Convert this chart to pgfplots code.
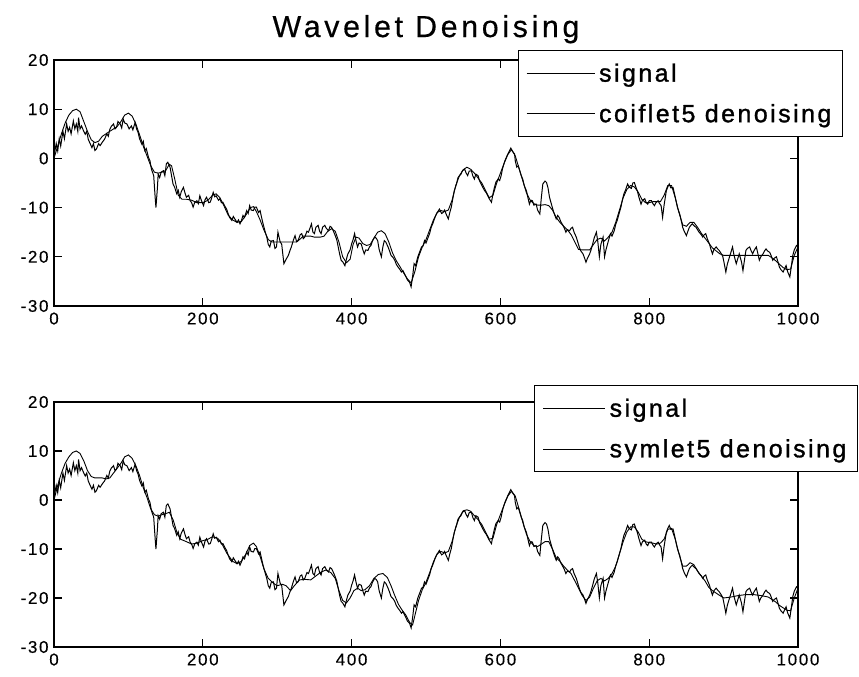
\documentclass[border=0pt]{standalone}
\usepackage{pgfplots}
\pgfplotsset{compat=1.18}
\usepackage{pgfplotstable}
\usepackage{fontspec}
\setmainfont{Liberation Sans}
\newfontfamily\titlefont[LetterSpace=12, FakeBold=0.4]{Liberation Sans}
\newfontfamily\legfont[LetterSpace=10, FakeBold=1.2]{Liberation Sans}
\newfontfamily\tickfont[LetterSpace=10, FakeBold=0.3]{Liberation Sans}

\pgfplotstableread{
x y
0 0.5
3 3
5 1.5
7 4
9 2.5
12 5.5
14 4
17 7
19 5.5
21 6.3
23 5
26 7.6
28 6
30 7
32 5.5
33 8.3
35 6
37 6.6
40 5.5
42 4.9
44 5.5
46 3.9
48 3.2
51 2.2
53 3
55 1.6
57 1.9
60 3
62 2.6
65 3.3
68 3.9
71 5
73 4.5
75 5.9
77 6.5
80 7
82 6
84 6.3
86 7.5
89 7
91 6.2
93 8
95 7.2
98 7
101 6
104 6.6
106 5.8
109 7.3
111 6
113 5.3
115 4
118 2.9
120 3.5
122 1.6
124 2
127 0.2
129 -0.5
131 -2.2
134 -3.5
136 -8
137 -10
139 -6
140 -3.2
142 -3.9
144 -2.8
147 -2.5
149 -3.5
151 -1.1
153 -0.8
156 -1.8
158 -3.5
160 -5.2
162 -5.8
165 -7.2
167 -6.5
169 -7.9
171 -6.8
174 -5.9
176 -7
178 -7.9
181 -7.5
183 -8.6
185 -9
187 -9.9
189 -9
192 -8.6
194 -9.2
196 -7.6
198 -8.5
201 -9.6
203 -8.4
205 -7.9
208 -9
210 -8.9
212 -8
214 -6.9
216 -7.8
218 -7.6
221 -8.5
223 -8.2
225 -9
227 -8.9
230 -9.8
232 -10.3
234 -11.2
236 -12
239 -12.6
241 -11.8
243 -12.3
246 -13
248 -12.5
250 -13.3
252 -12.6
254 -11.6
256 -12
259 -10.6
261 -11.2
263 -9.6
265 -10.5
268 -10.6
270 -9.9
272 -9.9
275 -11
277 -10.6
279 -12
281 -13.3
284 -15
286 -16
288 -17.5
290 -18
292 -16.8
295 -16.7
297 -18.3
299 -18
301 -15
304 -17
306 -17.4
309 -21.4
312 -20.5
315 -19.7
317 -18.8
319 -18
322 -16.5
324 -15.7
326 -16.9
328 -16.7
331 -15.5
333 -15.3
335 -16.3
337 -16
340 -14.8
342 -15
344 -14.2
346 -13.3
348 -15
350 -15.3
352 -14
355 -13.6
357 -14.8
359 -15.3
361 -14
364 -13.6
366 -14.2
369 -14.7
371 -13.8
373 -14
375 -14.6
377 -15.3
380 -16.5
382 -18
384 -19.5
386 -20.7
388 -21
391 -21.8
393 -20.5
395 -19.4
398 -18.6
400 -17.4
402 -16.5
404 -15.3
406 -16.8
408 -18
410 -17.2
413 -17.4
415 -18.5
417 -19.4
419 -18.6
422 -18.7
424 -18
426 -17.7
428 -16.8
431 -16
433 -16.2
435 -16.7
437 -18.5
440 -20
442 -18
444 -16.7
446 -17
449 -18
451 -18.8
453 -19.7
456 -20.2
458 -20.7
460 -21.5
462 -22
465 -22.6
467 -23.1
469 -22.8
471 -23.4
473 -24
475 -24.7
478 -25.2
480 -26.1
482 -24
484 -21.4
486 -21.8
489 -20
491 -19.2
494 -18
496 -17.8
498 -16.7
500 -17.2
503 -16
505 -15.2
507 -14
509 -13.3
512 -12
514 -11.3
516 -10.8
518 -10.3
521 -11.2
523 -11
525 -10.5
527 -11.3
530 -12.3
532 -11
534 -9.9
536 -8.2
538 -6.6
541 -5.2
543 -3.9
545 -3.5
547 -3.2
549 -2.5
552 -2.2
554 -3
556 -3.5
558 -2.6
561 -2.5
563 -3.6
565 -4.2
567 -3.2
570 -3.5
572 -4.6
574 -5.2
576 -5.8
579 -6.6
581 -7
583 -7.6
585 -8.2
588 -8.9
590 -7.2
592 -5.9
594 -4.8
597 -4.2
599 -4.5
601 -3.5
603 -2
606 -0.5
608 0.2
610 0.9
612 1.5
614 2.1
616 1.5
619 0.9
620 -0.5
622 -1.8
624 -1.5
626 -2.5
628 -3.5
630 -4.2
632 -5.5
635 -6.6
637 -8
639 -9.3
641 -8.5
643 -8.6
645 -9.5
648 -9.3
650 -10.5
653 -11.3
655 -8
657 -5.2
660 -4.6
662 -4.9
664 -6
666 -7.9
668 -9
671 -10.6
673 -11.5
675 -12.3
677 -11.6
679 -12
681 -12.8
684 -13.6
686 -14.2
688 -15
690 -14.5
693 -14.7
695 -14.2
697 -14
699 -15
702 -16
704 -17
706 -18
708 -18.8
711 -19.4
713 -20.2
715 -21.1
717 -20.3
720 -19.4
722 -18.5
724 -17.4
726 -16.2
729 -15
731 -17
733 -20
735 -17.5
738 -16
740 -20
742 -18.5
744 -17.4
746 -16.3
748 -15.3
750 -15.8
753 -14.7
755 -13.4
757 -12.6
759 -11.5
762 -9.9
764 -8.4
766 -7.2
768 -6.5
771 -5.2
773 -5.8
776 -6.1
778 -5
780 -4.9
782 -5.8
784 -6.6
786 -7.8
789 -9.3
791 -8.5
794 -8.2
796 -9
798 -9.3
800 -8.6
803 -8.6
805 -9.2
807 -9.6
809 -9
812 -8.6
814 -9.2
816 -9.6
818 -12
820 -9.5
823 -6.6
825 -5.8
827 -5.2
829 -6
832 -5.9
834 -7.2
836 -8.6
838 -10
841 -11.3
843 -12.6
845 -14
847 -14.8
850 -15.7
852 -14.8
854 -14
856 -13.6
858 -13.3
861 -13.8
863 -14
865 -14.5
867 -15
870 -15.5
872 -16
874 -15.5
876 -15.3
878 -16.3
881 -17.4
883 -18.5
885 -19.4
887 -18.5
890 -18
892 -18.4
894 -18.7
897 -19.4
899 -20
901 -21.5
903 -23.1
905 -21.5
908 -20
910 -19
912 -18
914 -19.7
917 -21.4
919 -20.4
921 -19.4
924 -21
926 -22.8
928 -20.7
930 -18.7
932 -18.3
935 -18
937 -18.8
939 -19.4
941 -18.7
944 -18
946 -19.3
948 -20.7
950 -20
953 -19.4
955 -18.8
957 -18.4
959 -18.8
962 -19.1
964 -19.8
966 -20.7
968 -20.3
971 -20
973 -21
975 -22.1
977 -22.6
980 -23.1
982 -22.4
984 -21.8
986 -23
989 -24.1
991 -22
993 -19.7
995 -18.6
998 -17.7
1000 -18
}\signaltable

\pgfplotstableread{
x y
0 0
5 2.5
10 5
15 7.2
20 8.8
25 9.7
30 10
35 9.5
40 7.5
45 5.5
50 3.8
55 3.2
60 3.5
65 4.5
70 5
75 5.5
80 6
85 6.5
90 7.5
95 8.8
100 9.2
105 8.6
110 7
115 4.8
120 2.5
125 0.5
130 -1.5
135 -2.8
140 -3
145 -2.8
150 -2.5
155 -1.2
158 -1.5
162 -4
167 -7.5
172 -8.3
178 -8.3
185 -8.5
192 -9
200 -9
207 -8.5
213 -7.5
218 -7.2
223 -8
228 -9.5
234 -11.5
240 -12.5
246 -13
252 -12.8
258 -11.5
264 -10
268 -9.8
272 -10.8
277 -12.5
282 -14.5
288 -16.5
293 -17
300 -17
310 -17
320 -17
326 -17
330 -16.5
335 -15.8
340 -15.8
345 -15.8
350 -16
358 -16
363 -15.8
368 -14.8
373 -14.3
378 -14.8
383 -17
388 -20
393 -21.2
398 -20.5
402 -17.5
406 -16
410 -16.2
415 -17.3
420 -17.7
425 -17.5
430 -16.2
435 -15
440 -14.7
445 -15.3
450 -17
455 -19.2
460 -20.8
465 -22
470 -23.3
475 -24.5
480 -25.3
485 -23
490 -20
495 -18
500 -16.5
505 -14.5
510 -12.5
515 -11
520 -10.6
525 -10.8
530 -10.5
535 -8.5
540 -5.5
545 -3.5
550 -2.3
555 -1.8
560 -2.2
565 -3
570 -4
575 -5
580 -6.5
585 -8
590 -7.5
595 -5
600 -3
605 -1
610 0.8
615 1.8
620 0.5
625 -2
630 -4.5
635 -7
640 -8.5
645 -9.2
650 -9.5
655 -9.5
660 -9.4
665 -9.6
670 -10.5
675 -12
680 -13
685 -13.8
690 -14.5
695 -15.5
700 -17
705 -18.5
710 -18.6
715 -18.6
720 -18.6
725 -17.5
730 -16.5
735 -16.2
740 -16.8
745 -16
750 -15
755 -13
760 -10.5
765 -8
770 -6.3
775 -5.5
780 -5.8
785 -6.8
790 -8.3
795 -9
800 -9
805 -8.8
810 -8.8
815 -8.8
820 -7.5
825 -5.5
830 -5.5
835 -8
840 -11
845 -13.5
850 -13.8
855 -13
860 -13
865 -14
870 -15.2
875 -16.2
880 -17.2
885 -18.2
890 -18.8
895 -19.4
900 -19.7
910 -19.7
920 -19.7
930 -19.7
940 -19.7
950 -19.7
960 -19.7
965 -20.2
970 -20.8
975 -21.5
980 -22.2
985 -22.6
990 -22.5
995 -19.7
1000 -18
}\coiflettable

\pgfplotstableread{
x y
0 0
5 3
10 5.5
15 7.5
20 8.8
25 9.7
30 10
35 9.5
40 8
45 6
50 4.8
55 4.5
60 4.5
65 4.5
70 4.3
75 4.5
80 5.5
85 6.5
90 7.5
95 8.8
100 9.2
105 8.5
110 7
115 5
120 2.5
125 0.5
130 -1.8
135 -3
140 -3.3
145 -3
150 -2.8
155 -2.5
160 -4
165 -6.5
170 -8
178 -8.5
185 -9
192 -8.8
200 -8.3
207 -8
213 -7.5
220 -7.8
226 -9
232 -10.8
240 -12.5
246 -13
252 -12.5
258 -11
263 -9.3
268 -8.8
272 -9.5
277 -11.5
282 -14
288 -16
295 -17
300 -17.5
307 -17.2
312 -17.5
318 -18.5
323 -17.5
330 -16.3
337 -16.2
345 -16.3
352 -15.5
358 -14.8
365 -14.3
372 -14.8
378 -16
383 -18.5
388 -20.5
393 -21
398 -20
403 -18.5
408 -18
413 -18.5
418 -18.3
424 -17.5
430 -16
436 -15.2
442 -15
448 -15.8
453 -17.5
458 -19.5
463 -21.3
468 -22.5
473 -23.5
478 -25
482 -25.5
486 -23
490 -20.5
495 -18.3
500 -16.8
505 -14.8
510 -12.6
515 -11
520 -10.5
525 -10.8
530 -10.5
535 -8.5
540 -5.5
545 -3.5
550 -2.2
555 -2
560 -2.3
565 -3.2
570 -4
575 -5
580 -6.5
585 -8
590 -7.8
595 -5
600 -3
605 -1
610 0.8
615 1.8
620 0.8
625 -1.8
630 -4.5
635 -7
640 -8.5
645 -9.3
650 -9.5
655 -9
660 -8.5
665 -8.5
670 -10
675 -11.8
680 -12.5
685 -13.5
690 -14.3
695 -15
700 -16.5
705 -18
710 -19.5
715 -20.5
720 -19.8
725 -18
730 -16.5
735 -16
740 -16.5
745 -16
750 -15
755 -13.5
760 -11
765 -8.5
770 -6.5
775 -5.5
780 -5.5
785 -6.5
790 -8
795 -8.5
800 -8.7
805 -8.8
810 -9
815 -8.8
820 -8
825 -6
830 -5.8
835 -8
840 -11
845 -13.5
850 -13.5
855 -12.8
860 -13.2
865 -14.5
870 -15.5
875 -16.5
880 -17.8
885 -18.5
890 -19
895 -19.5
900 -20
910 -19.8
920 -19.5
930 -19.3
940 -19.3
950 -19.5
960 -19.8
965 -20.3
970 -20.8
975 -21.5
980 -22
985 -22.5
990 -22.6
995 -20
1000 -18
}\symlettable

\pgfplotsset{
  mlab/.style={
    scale only axis,
    width=744bp,
    xmin=0, xmax=1000, ymin=-30, ymax=20,
    xtick={0,200,400,600,800,1000},
    ytick={-30,-20,-10,0,10,20},
    axis line style={line width=1.2bp},
    every tick/.style={black, line width=1.2bp},
    major tick length=8bp,
    tick align=inside,
    tick label style={font=\tickfont\fontsize{17}{19}\selectfont},
    /pgf/number format/assume math mode=true,
    /pgf/number format/1000 sep={},
    xticklabel style={yshift=-3bp},
    yticklabel style={xshift=-2bp},
    legend cell align=left,
    legend style={draw=black, line width=1.2bp, fill=white,
      font=\legfont\fontsize{25}{28}\selectfont,
      anchor=north east, inner xsep=8bp, inner ysep=10bp,
      nodes={inner sep=3bp}, row sep=15bp, column sep=1bp},
  },
}

\begin{document}
\begin{tikzpicture}
\useasboundingbox (0bp,0bp) rectangle (859bp,677bp);

\begin{axis}[mlab,
  at={(54bp,371bp)}, anchor=south west, height=246bp,
  title={\titlefont\fontsize{30.5}{33}\selectfont Wavelet Denoising},
  title style={at={(0.5,1)}, anchor=base, yshift=17bp, inner sep=0pt},
  legend image code/.code={\draw[#1] (0bp,0bp) -- (68bp,0bp);},
  legend style={at={(1.0605,1.0407)}},
]
\addplot[black, line width=1bp, mark=none] table[x=x, y=y] {\signaltable};
\addplot[black, line width=0.9bp, mark=none] table[x=x, y=y] {\coiflettable};
\legend{signal, coiflet5 denoising}
\end{axis}

\begin{axis}[mlab,
  at={(54bp,30bp)}, anchor=south west, height=245bp,
  legend image code/.code={\draw[#1] (0bp,0bp) -- (62bp,0bp);},
  legend style={at={(1.0806,1.069)}},
]
\addplot[black, line width=1bp, mark=none] table[x=x, y=y] {\signaltable};
\addplot[black, line width=0.9bp, mark=none] table[x=x, y=y] {\symlettable};
\legend{signal, symlet5 denoising}
\end{axis}
\end{tikzpicture}
\end{document}
